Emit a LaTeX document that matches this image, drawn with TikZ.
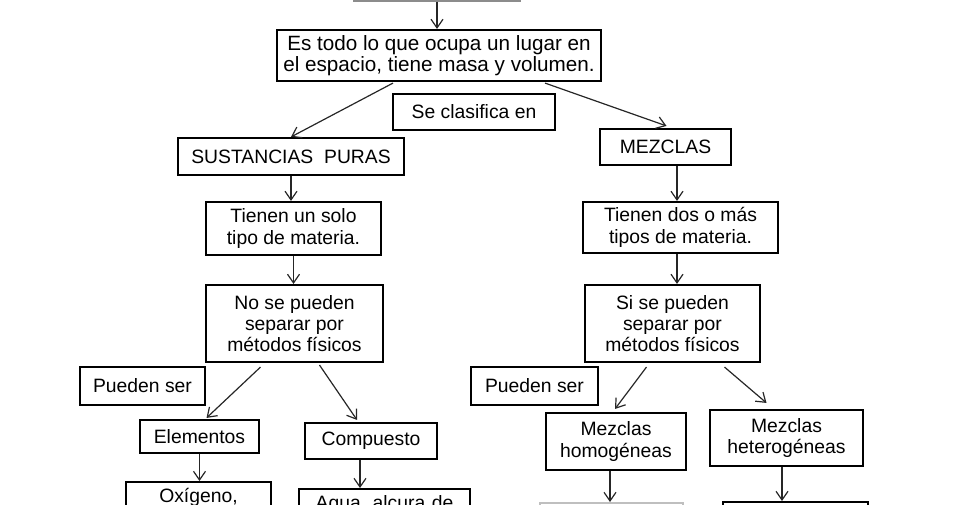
\documentclass[tikz,border=0pt]{standalone}
\usepackage{fontspec}
\setmainfont{Liberation Sans}
\usetikzlibrary{positioning,arrows.meta,calc}

\begin{document}
\begin{tikzpicture}[
  x=0.75pt, y=-0.75pt,
  font=\fontsize{14.5}{16}\selectfont,
  box/.style={draw=black, line width=1.6pt, align=center, inner sep=2pt},
  cutbox/.style={box, anchor=north, inner ysep=5pt},
  arr/.style={draw=black!85, line width=0.9pt, -{Straight Barb[length=6.5pt,width=9pt]}}
]
\useasboundingbox (0,0) rectangle (960,504);
\clip (0,0) rectangle (960,504);

% upper part
\node[box, draw=black!45, line width=0.8pt, minimum width=124.5pt, minimum height=31.5pt] (tit) at (437,-20) {};
\node[box, minimum width=243pt, minimum height=38.25pt, font=\fontsize{15.5}{14}\selectfont] (def) at (439,55.5) {Es todo lo que ocupa un lugar en\\el espacio, tiene masa y volumen.};
\node[box, minimum width=121.5pt, minimum height=27pt] (clas) at (474,112) {Se clasifica en};

% sustancias puras
\node[box, minimum width=169.5pt, minimum height=27.75pt] (sp) at (291,156.5) {SUSTANCIAS\ \ PURAS};
\node[box, minimum width=131.25pt, minimum height=39.75pt] (sp1) at (293.5,228.5) {Tienen un solo\\tipo de materia.};
\node[box, minimum width=132.75pt, minimum height=57.75pt] (sp2) at (294.5,323.5) {No se pueden\\separar por\\métodos físicos};
\node[box, minimum width=93.75pt, minimum height=28.5pt] (pl) at (142.5,386) {Pueden ser};
\node[box, minimum width=89.25pt, minimum height=24.75pt] (ele) at (199.5,436.5) {Elementos};
\node[box, minimum width=99pt, minimum height=27pt] (comp) at (371,441) {Compuesto};
\node[cutbox, text width=105pt] (oxi) at (198.5,481) {Oxígeno,};
\node[cutbox, text width=124pt] (agua) at (384.5,488) {Agua, alcura de};

% mezclas
\node[box, minimum width=98.25pt, minimum height=27pt] (mez) at (665.5,147) {MEZCLAS};
\node[box, minimum width=146.25pt, minimum height=38.25pt] (mz1) at (680.5,227.5) {Tienen dos o más\\tipos de materia.};
\node[box, minimum width=131.25pt, minimum height=57.75pt] (mz2) at (672.5,323.5) {Si se pueden\\separar por\\métodos físicos};
\node[box, minimum width=95.25pt, minimum height=28.5pt] (pr) at (534.5,386) {Pueden ser};
\node[box, minimum width=105pt, minimum height=42.75pt] (hom) at (616,441.5) {Mezclas\\homogéneas};
\node[box, minimum width=114.75pt, minimum height=42pt] (het) at (786.5,438) {Mezclas\\heterogéneas};
\node[box, anchor=north, draw=black!25, minimum width=107.25pt, minimum height=30pt] (homb) at (611.5,502) {};
\node[box, anchor=north, minimum width=108.75pt, minimum height=30pt] (hetb) at (795.5,501) {};

% connectors
\coordinate (ca) at ($(comp.south)+(-11,0)$);
\coordinate (ma) at ($(mz1.north)+(-3.5,0)$);
\coordinate (mb) at ($(mz2.north)+(4.5,0)$);
\coordinate (ha) at ($(hom.south)+(-6,0)$);
\coordinate (hb) at ($(het.south)+(-4.5,0)$);
\draw[arr] (tit.south) -- (tit.south |- def.north);
\draw[arr] ($(def.south)+(-46,1)$) -- (sp.north);
\draw[arr] ($(def.south)+(106,1)$) -- ($(mez.north)+(1,-2)$);
\draw[arr] (sp.south) -- (sp.south |- sp1.north);
\draw[arr] (sp1.south) -- (sp1.south |- sp2.north);
\draw[arr] (ma |- mez.south) -- (ma);
\draw[arr] (mb |- mz1.south) -- (mb);
\draw[arr] ($(sp2.south)+(-34,4)$) -- ($(ele.north)+(7,-1)$);
\draw[arr] ($(sp2.south)+(25,2)$) -- ($(comp.north)+(-14,-2)$);
\draw[arr] (ele.south) -- (ele.south |- oxi.north);
\draw[arr] (ca) -- (ca |- agua.north);
\draw[arr] ($(mz2.south)+(-26,4)$) -- ($(hom.north)+(-1,-3)$);
\draw[arr] ($(mz2.south)+(52,4)$) -- ($(het.north)+(-20,-6)$);
\draw[arr] (ha) -- (ha |- homb.north);
\draw[arr] (hb) -- (hb |- hetb.north);

\end{tikzpicture}
\end{document}
